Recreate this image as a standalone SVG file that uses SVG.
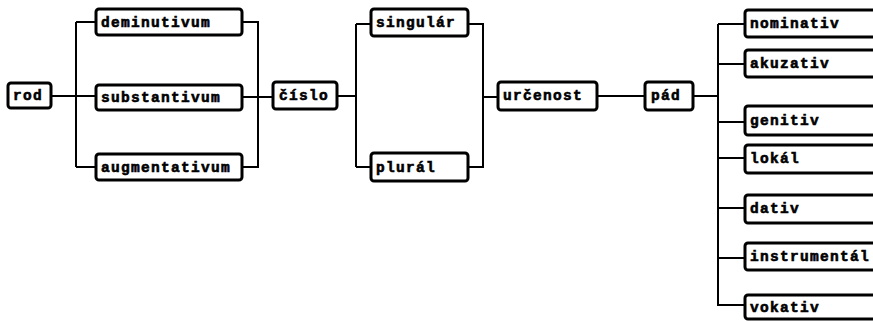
<svg xmlns="http://www.w3.org/2000/svg" width="873" height="321" viewBox="0 0 873 321">
<style>
.box{fill:#fff;stroke:#000;stroke-width:3;}
.lbl{font-family:"Liberation Mono","DejaVu Sans Mono",monospace;font-weight:bold;font-size:14.5px;letter-spacing:1.3px;fill:#000;stroke:#000;stroke-width:0.6px;}
.ln{fill:none;stroke:#000;stroke-width:2;}
</style>
<rect width="873" height="321" fill="#fff"/>
<g id="connectors">
<path class="ln" d="M51,96 H96 M76,22 V167 M76,22 H96 M76,167 H96"/>
<path class="ln" d="M242,22 H258 V167 H242 M242,97 H273"/>
<path class="ln" d="M337,96 H356 M356,24 V167 M356,24 H371 M356,167 H371"/>
<path class="ln" d="M468,24 H483 V167 H468 M483,97 H498"/>
<path class="ln" d="M597,96 H645 M693,96 H718"/>
<path class="ln" d="M718,24 V305 H745 M718,24 H745 M718,64 H745 M718,122 H745 M718,158 H745 M718,208 H745 M718,258 H745"/>
</g>
<g id="rod"><rect class="box" x="8" y="83" width="43" height="25" rx="3"/><text class="lbl" x="13" y="100">rod</text></g>
<g id="deminutivum"><rect class="box" x="96" y="9" width="146" height="26" rx="3"/><text class="lbl" x="101" y="27">deminutivum</text></g>
<g id="substantivum"><rect class="box" x="96" y="85" width="146" height="25" rx="3"/><text class="lbl" x="101" y="102">substantivum</text></g>
<g id="augmentativum"><rect class="box" x="96" y="154" width="146" height="26" rx="3"/><text class="lbl" x="101" y="172">augmentativum</text></g>
<g id="cislo"><rect class="box" x="273" y="82" width="64" height="27" rx="3"/><text class="lbl" x="279" y="100">číslo</text></g>
<g id="singular"><rect class="box" x="371" y="9" width="97" height="27" rx="3"/><text class="lbl" x="376" y="27">singulár</text></g>
<g id="plural"><rect class="box" x="371" y="153" width="97" height="28" rx="3"/><text class="lbl" x="376" y="172">plurál</text></g>
<g id="urcenost"><rect class="box" x="498" y="82" width="99" height="28" rx="3"/><text class="lbl" x="503" y="100">určenost</text></g>
<g id="pad"><rect class="box" x="645" y="82" width="48" height="28" rx="3"/><text class="lbl" x="651" y="100">pád</text></g>
<g id="nominativ"><rect class="box" x="745" y="10" width="140" height="27" rx="3"/><text class="lbl" x="750" y="28">nominativ</text></g>
<g id="akuzativ"><rect class="box" x="745" y="50" width="140" height="27" rx="3"/><text class="lbl" x="750" y="68">akuzativ</text></g>
<g id="genitiv"><rect class="box" x="745" y="106" width="140" height="29" rx="3"/><text class="lbl" x="750" y="125">genitiv</text></g>
<g id="lokal"><rect class="box" x="745" y="145" width="140" height="28" rx="3"/><text class="lbl" x="750" y="163">lokál</text></g>
<g id="dativ"><rect class="box" x="745" y="195" width="140" height="28" rx="3"/><text class="lbl" x="750" y="213">dativ</text></g>
<g id="instrumental"><rect class="box" x="745" y="243" width="140" height="27" rx="3"/><text class="lbl" x="750" y="261">instrumentál</text></g>
<g id="vokativ"><rect class="box" x="745" y="295" width="140" height="24" rx="3"/><text class="lbl" x="750" y="312">vokativ</text></g>
</svg>
